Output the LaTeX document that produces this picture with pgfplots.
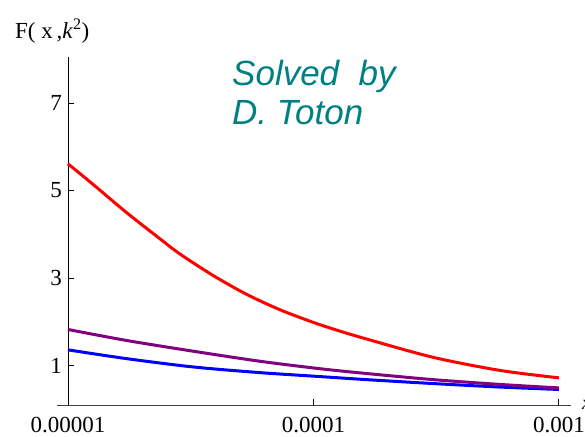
\documentclass[border=0pt]{standalone}
\usepackage{pgfplots}
\pgfplotsset{compat=1.18}
\usepackage{fontspec}
\setmainfont{Liberation Serif}
\newfontfamily\solvedfont{Liberation Sans}
\definecolor{tealtext}{RGB}{0,128,128}
\definecolor{mpurple}{RGB}{128,0,128}
\begin{document}
\begin{tikzpicture}[x=1pt,y=1pt]
\useasboundingbox (0,0) rectangle (585,436);
\begin{axis}[
  at={(68pt,31pt)}, anchor=south west,
  scale only axis, width=503pt, height=348pt,
  xmode=log,
  xmin=1e-5, xmax=1.12e-3,
  ymin=0.1, ymax=8.05,
  axis lines=left,
  axis line style={-, line width=0.9pt},
  x axis line style={black!75, shorten <=-11pt},
  xtick={1e-5,1e-4,1e-3},
  xticklabels={0.00001,0.0001,0.001},
  ytick={1,3,5,7},
  xminorticks=false, yminorticks=false,
  tick align=inside,
  major tick length=6pt,
  tick style={black, line width=0.9pt},
  ticklabel style={font=\fontsize{23}{25}\selectfont, inner sep=0pt},
  yticklabel style={xshift=-6pt},
  xticklabel style={yshift=-12pt},
  /pgf/number format/assume math mode=true,
  clip=false,
]
\addplot[blue, line width=3pt, smooth] coordinates {
 (1e-5,1.36) (1.729e-5,1.16) (3.228e-5,0.97) (6.039e-5,0.84) (1.059e-4,0.75)
 (1.641e-4,0.68) (3.069e-4,0.59) (5.754e-4,0.51) (1e-3,0.455)};
\addplot[mpurple, line width=3pt, smooth] coordinates {
 (1e-5,1.825) (1.729e-5,1.575) (3.228e-5,1.33) (6.039e-5,1.10) (1.059e-4,0.93)
 (1.641e-4,0.82) (3.069e-4,0.68) (5.754e-4,0.57) (1e-3,0.49)};
\addplot[red, line width=3pt, smooth] coordinates {
 (1e-5,5.61) (1.265e-5,5.14) (1.729e-5,4.50) (2.366e-5,3.90) (2.858e-5,3.55)
 (3.899e-5,3.06) (5.333e-5,2.63) (7.278e-5,2.28) (9.954e-5,1.99) (1.279e-4,1.79)
 (1.641e-4,1.61) (3.069e-4,1.19) (5.754e-4,0.89) (1e-3,0.72)};
\end{axis}
\node[anchor=base west, inner sep=0pt, font=\fontsize{23}{25}\selectfont] at (15,397) {F( x\,,\textit{k}\textsuperscript{2})};
\node[anchor=west, inner sep=0pt, font=\fontsize{20}{22}\selectfont\itshape] at (582,31) {x};
\node[anchor=north west, inner sep=0pt, align=left, text=tealtext,
  font=\solvedfont\fontsize{35}{39}\selectfont\itshape] at (232,376) {Solved\ \ by\\D. Toton};
\end{tikzpicture}
\end{document}
